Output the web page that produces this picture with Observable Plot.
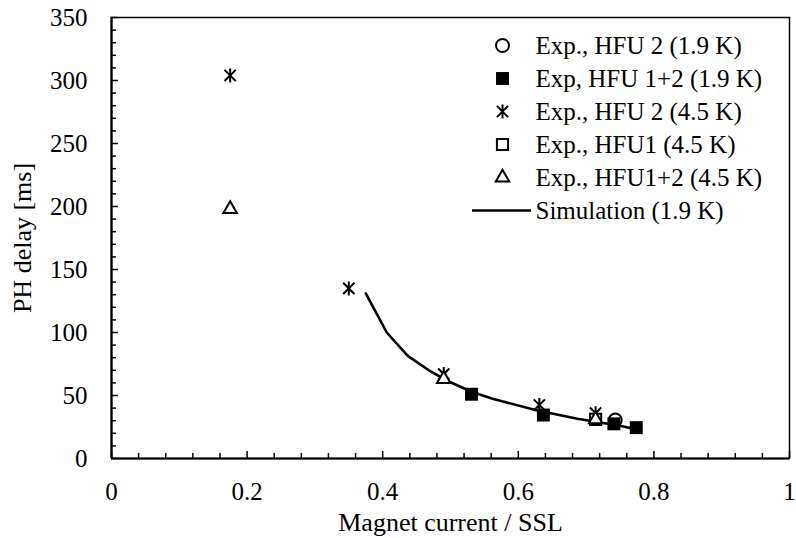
<!DOCTYPE html>
<html>
<head>
<meta charset="utf-8">
<script src="https://cdn.jsdelivr.net/npm/d3@7"></script>
<script src="https://cdn.jsdelivr.net/npm/@observablehq/plot@0.6"></script>
<style>
  html, body { margin: 0; padding: 0; background: #fff; }
  #chart svg { display: block; }
</style>
</head>
<body>
<div id="chart"></div>
<script>
// PH delay versus normalized magnet current (short-sample limit)
const circleHFU2_19K = [[0.743, 30.5]];                       // Exp., HFU 2 (1.9 K)
const squareHFU12_19K = [[0.531, 51], [0.637, 34.5], [0.741, 27.5], [0.774, 24.5]]; // Exp, HFU 1+2 (1.9 K)
const starHFU2_45K = [[0.175, 304], [0.350, 135], [0.490, 67], [0.631, 42.5], [0.714, 36]]; // Exp., HFU 2 (4.5 K)
const openSqHFU1_45K = [[0.714, 31]];                         // Exp., HFU1 (4.5 K)
const triHFU12_45K = [[0.175, 198], [0.490, 63], [0.714, 31]]; // Exp., HFU1+2 (4.5 K)
const simulation19K = [
  [0.375, 131], [0.406, 100], [0.437, 81.5], [0.468, 70], [0.500, 60.5],
  [0.531, 53], [0.562, 47.5], [0.625, 38.5], [0.687, 31.5], [0.750, 26], [0.775, 23]
];

const legendLabels = [
  "Exp., HFU 2 (1.9 K)",
  "Exp, HFU 1+2 (1.9 K)",
  "Exp., HFU 2 (4.5 K)",
  "Exp., HFU1 (4.5 K)",
  "Exp., HFU1+2 (4.5 K)",
  "Simulation (1.9 K)"
];

const xMajor = [0, 0.2, 0.4, 0.6, 0.8, 1];
const yMajor = [0, 50, 100, 150, 200, 250, 300, 350];
const xMinor = d3.range(0, 25).map(i => i * 0.04).filter(v => !xMajor.some(m => Math.abs(m - v) < 1e-9));
const yMinor = d3.range(0, 36).map(i => i * 10).filter(v => v % 50 !== 0);

const W = 796, H = 538;
const mL = 111, mR = 7, mT = 17, mB = 80;
const innerW = W - mL - mR, innerH = H - mT - mB;
const font = "'Liberation Serif', 'Times New Roman', serif";

// Excel-style star marker: an X crossed by a vertical bar
const starSymbol = {
  draw(ctx, size) {
    const r = Math.sqrt(size / Math.PI);
    const d = r * 0.8;
    ctx.moveTo(-d, -d); ctx.lineTo(d, d);
    ctx.moveTo(-d, d); ctx.lineTo(d, -d);
    ctx.moveTo(0, -r); ctx.lineTo(0, r);
  }
};

const styles = [
  {symbol: "circle", r: 6.5, fill: "white", stroke: "black", strokeWidth: 2},
  {symbol: "square", r: 7.3, fill: "black", stroke: "none"},
  {symbol: starSymbol, r: 7, fill: "none", stroke: "black", strokeWidth: 2},
  {symbol: "square", r: 6.3, fill: "white", stroke: "black", strokeWidth: 2},
  {symbol: "triangle", r: 5, fill: "white", stroke: "black", strokeWidth: 2}
];
const series = [circleHFU2_19K, squareHFU12_19K, starHFU2_45K, openSqHFU1_45K, triHFU12_45K];

const legendSymX = 502 - mL, legendTextX = 535 - mL, legendY0 = 45 - mT, legendGap = 33;

const marks = [
  // minor and major inward ticks
  Plot.tickX(xMinor, {x: d => d, insetTop: innerH - 5, strokeWidth: 1.5}),
  Plot.tickX(xMajor, {x: d => d, insetTop: innerH - 7, strokeWidth: 1.5}),
  Plot.tickY(yMinor, {y: d => d, insetRight: innerW - 5, strokeWidth: 1.5}),
  Plot.tickY(yMajor, {y: d => d, insetRight: innerW - 7, strokeWidth: 1.5}),
  Plot.axisX(xMajor, {tickSize: 0, tickPadding: 24, fontSize: 25, fontFamily: font, label: null, tickFormat: d => String(d)}),
  Plot.axisY(yMajor, {tickSize: 0, tickPadding: 24, fontSize: 25, fontFamily: font, label: null}),
  Plot.frame({stroke: "black", strokeWidth: 1.5}),
  Plot.ruleX([0], {stroke: "black", strokeWidth: 2.2}),
  Plot.ruleY([0], {stroke: "black", strokeWidth: 2.2}),
  Plot.text(["Magnet current / SSL"], {frameAnchor: "bottom", dy: 64, textAnchor: "middle", lineAnchor: "middle", fontSize: 26, fontFamily: font, fill: "black"}),
  Plot.text(["PH delay [ms]"], {frameAnchor: "left", dx: -89, rotate: -90, textAnchor: "middle", lineAnchor: "middle", fontSize: 26, fontFamily: font, fill: "black"}),
  // simulated curve
  Plot.line(simulation19K, {x: d => d[0], y: d => d[1], stroke: "black", strokeWidth: 2.6}),
  // measured points
  ...series.map((data, i) => Plot.dot(data, {x: d => d[0], y: d => d[1], ...styles[i]})),
  // legend
  ...styles.map((s, i) => Plot.dot([legendLabels[i]], {frameAnchor: "top-left", dx: legendSymX, dy: legendY0 + i * legendGap, ...s})),
  Plot.ruleY([legendLabels[5]], {y: null, frameAnchor: "top-left", x1: null, insetLeft: 472 - mL, insetRight: W - mR - 531, dy: legendY0 + 5 * legendGap - innerH / 2, stroke: "black", strokeWidth: 2.6}),
  ...legendLabels.map((t, i) => Plot.text([t], {frameAnchor: "top-left", dx: legendTextX, dy: legendY0 + i * legendGap, textAnchor: "start", lineAnchor: "middle", fontSize: 25, fontFamily: font, fill: "black"}))
];

const chart = Plot.plot({
  width: W,
  height: H,
  marginLeft: mL,
  marginRight: mR,
  marginTop: mT,
  marginBottom: mB,
  style: {fontFamily: font, color: "black", background: "white"},
  x: {domain: [0, 1], axis: null},
  y: {domain: [0, 350], axis: null},
  marks
});
document.getElementById("chart").append(chart);
</script>
</body>
</html>
